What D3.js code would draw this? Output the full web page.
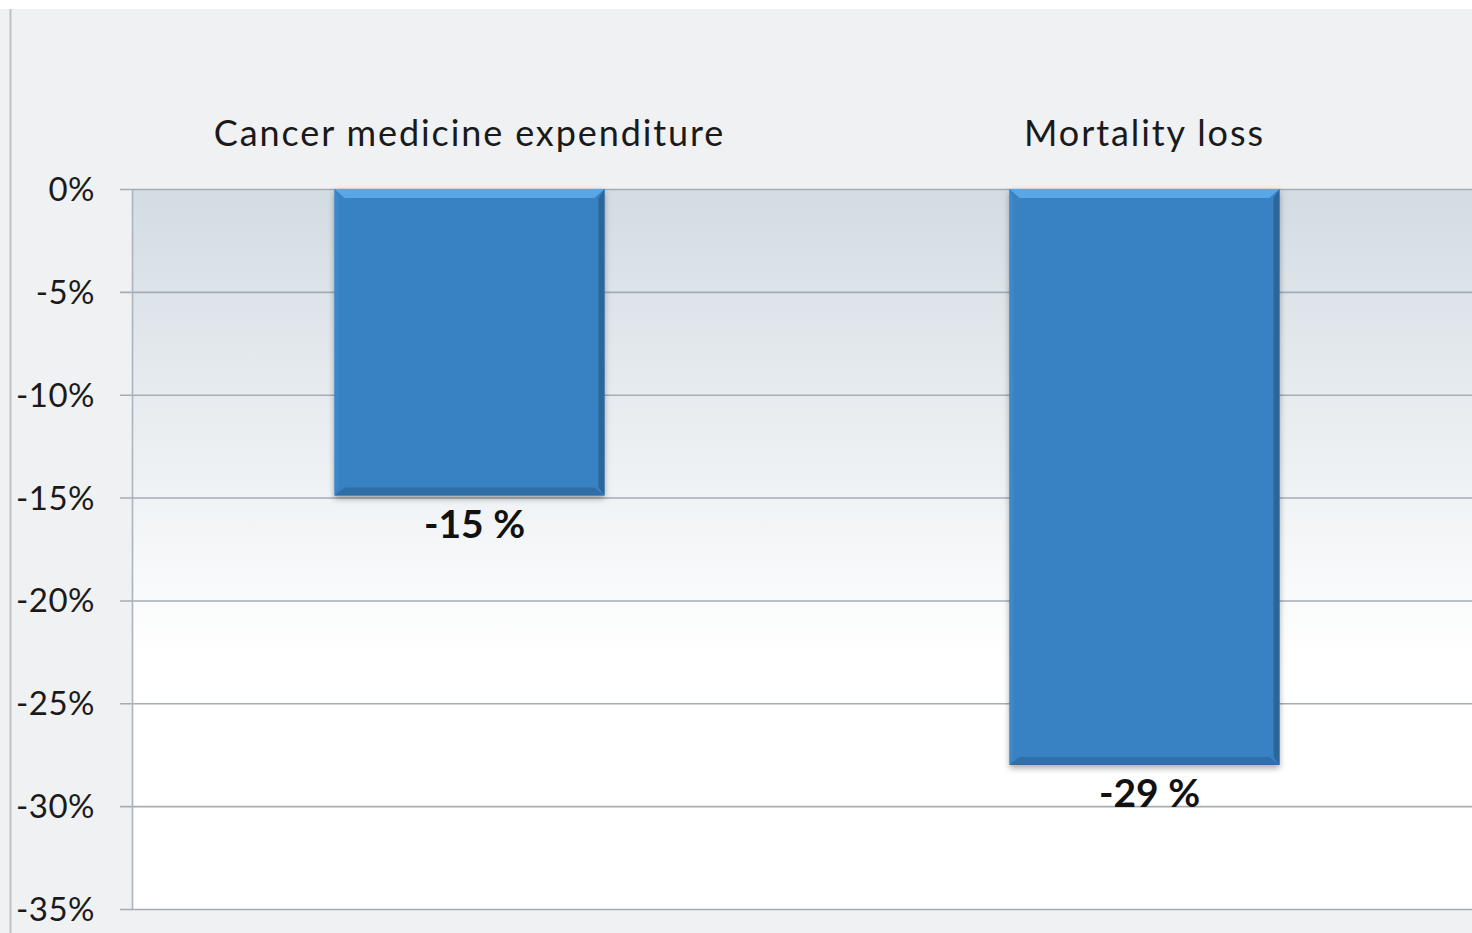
<!DOCTYPE html>
<html>
<head>
<meta charset="utf-8">
<script src="https://cdn.jsdelivr.net/npm/d3@7"></script>
<style>
	body { margin: 0; background: #fff; }
	svg { display: block; }
	text { font-family: Lato, 'Open Sans', sans-serif; }
</style>
</head>
<body>
<svg width="1472" height="933"></svg>
<script>
const categories = ['Cancer medicine expenditure', 'Mortality loss'];
const values = [-14.9, -28];
const valueLabels = ['-15 %', '-29 %'];
const ticks = [0, -5, -10, -15, -20, -25, -30, -35];

const svg = d3.select('svg'),
	width = 1472,
	height = 933;

const x = d3.scaleBand()
	.domain(categories)
	.range([132, 1482])
	.paddingInner(0.6)
	.paddingOuter(0.3);

const y = d3.scaleLinear()
	.domain([0, -35])
	.range([189, 909]);

let defs = svg.append('defs');

let bg = defs.append('linearGradient')
	.attr('id', 'plotbg')
	.attr('x1', 0).attr('y1', 0).attr('x2', 0).attr('y2', 1);
bg.append('stop').attr('offset', '0%').attr('stop-color', '#d3dce3');
bg.append('stop').attr('offset', '65%').attr('stop-color', '#ffffff');
bg.append('stop').attr('offset', '100%').attr('stop-color', '#ffffff');

let shadow = defs.append('filter').attr('id', 'shadow')
	.attr('x', '-10%').attr('y', '-10%').attr('width', '120%').attr('height', '120%');
shadow.append('feDropShadow')
	.attr('dx', 0).attr('dy', 3)
	.attr('stdDeviation', 3)
	.attr('flood-color', '#000')
	.attr('flood-opacity', 0.35);

// page background
svg.append('rect')
	.attr('x', 0).attr('y', 9)
	.attr('width', width).attr('height', height - 9)
	.attr('fill', '#f0f1f3');

svg.append('line')
	.attr('x1', 10.5).attr('x2', 10.5)
	.attr('y1', 9).attr('y2', height)
	.attr('stroke', '#b9c1c9').attr('stroke-width', 2);

// plot area
svg.append('rect')
	.attr('x', 132).attr('y', y(0))
	.attr('width', width - 132).attr('height', y(-35) - y(0))
	.attr('fill', 'url(#plotbg)');

// gridlines and tick marks
svg.append('g')
	.selectAll('line')
	.data(ticks)
	.enter().append('line')
	.attr('x1', 120).attr('x2', width)
	.attr('y1', function (d) { return y(d) + 0.5; })
	.attr('y2', function (d) { return y(d) + 0.5; })
	.attr('stroke', '#a4acb4')
	.attr('stroke-width', 1.6);

svg.append('line')
	.attr('x1', 132.5).attr('x2', 132.5)
	.attr('y1', y(0)).attr('y2', y(-35))
	.attr('stroke', '#a9b5c1').attr('stroke-width', 1.6);

svg.append('g')
	.selectAll('text')
	.data(ticks)
	.enter().append('text')
	.attr('x', 95)
	.attr('y', function (d) { return y(d) + 12; })
	.attr('text-anchor', 'end')
	.attr('font-size', 33)
	.attr('letter-spacing', 0.5)
	.attr('fill', '#1a1a1a')
	.text(function (d) { return d + '%'; });

// category labels on top
svg.append('g')
	.selectAll('text')
	.data(categories)
	.enter().append('text')
	.attr('x', function (d) { return x(d) + x.bandwidth() / 2; })
	.attr('y', 146)
	.attr('text-anchor', 'middle')
	.attr('font-size', 36)
	.attr('letter-spacing', 1.9)
	.attr('fill', '#1a1a1a')
	.text(function (d) { return d; });

// bars with a bevel look
let bars = svg.append('g')
	.selectAll('g')
	.data(values)
	.enter().append('g');

bars.append('rect')
	.attr('x', function (d, i) { return x(categories[i]); })
	.attr('y', y(0))
	.attr('width', x.bandwidth())
	.attr('height', function (d) { return y(d) - y(0); })
	.attr('fill', '#3782c4')
	.attr('filter', 'url(#shadow)');

// top highlight
bars.append('path')
	.attr('d', function (d, i) {
		let x0 = x(categories[i]), x1 = x0 + x.bandwidth(), y0 = y(0);
		return `M${x0},${y0}L${x1},${y0}L${x1 - 10},${y0 + 9}L${x0 + 10},${y0 + 9}Z`;
	})
	.attr('fill', '#5aa6e6');

// bottom dark edge
bars.append('path')
	.attr('d', function (d, i) {
		let x0 = x(categories[i]), x1 = x0 + x.bandwidth(), y1 = y(d);
		return `M${x0},${y1}L${x1},${y1}L${x1 - 10},${y1 - 8}L${x0 + 10},${y1 - 8}Z`;
	})
	.attr('fill', '#306fa6');

// right dark edge
bars.append('path')
	.attr('d', function (d, i) {
		let x0 = x(categories[i]), x1 = x0 + x.bandwidth(), y0 = y(0), y1 = y(d);
		return `M${x1},${y0}L${x1},${y1}L${x1 - 6},${y1 - 8}L${x1 - 6},${y0 + 9}Z`;
	})
	.attr('fill', '#2c6699');

// left edge slightly lighter
bars.append('path')
	.attr('d', function (d, i) {
		let x0 = x(categories[i]), y0 = y(0), y1 = y(d);
		return `M${x0},${y0}L${x0},${y1}L${x0 + 4},${y1 - 8}L${x0 + 4},${y0 + 9}Z`;
	})
	.attr('fill', '#3d88c9');

// value labels
svg.append('g')
	.selectAll('text')
	.data(values)
	.enter().append('text')
	.attr('x', function (d, i) { return x(categories[i]) + x.bandwidth() / 2 + 5; })
	.attr('y', function (d) { return y(d) + 42; })
	.attr('text-anchor', 'middle')
	.attr('font-size', 39)
	.attr('font-weight', 'bold')
	.attr('fill', '#111')
	.text(function (d, i) { return valueLabels[i]; });
</script>
</body>
</html>
